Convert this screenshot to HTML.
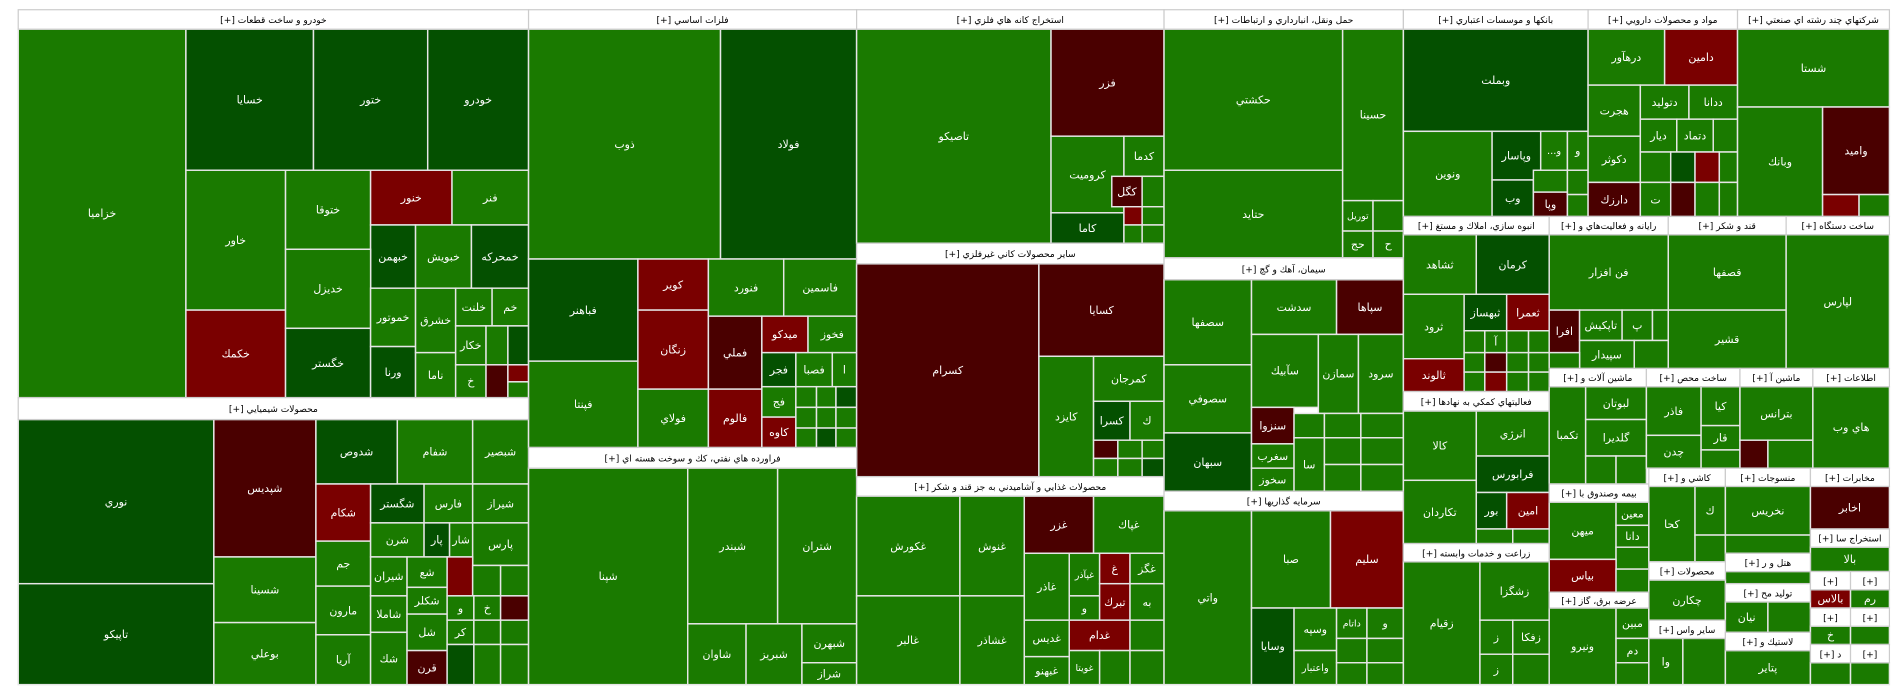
<!DOCTYPE html>
<html><head><meta charset="utf-8"><style>
html,body{margin:0;padding:0;background:#fff;width:1904px;height:698px;overflow:hidden}
svg text{font-family:"DejaVu Sans","Liberation Sans",sans-serif}
</style></head><body>
<svg id="s" width="1904" height="698" viewBox="0 0 1567 574" preserveAspectRatio="none" xmlns="http://www.w3.org/2000/svg"></svg>
<script>
var G='#1a7a00',D='#045000',R='#7a0000',K='#4a0000';
var H=[
[15,8,435,24,'خودرو و ساخت قطعات [+]'],
[15,327,435,345,'محصولات شيميايي [+]'],
[435,8,705,24,'فلزات اساسي [+]'],
[435,368,705,385,'فراورده هاي نفتي، كك و سوخت هسته اي [+]'],
[705,8,958,24,'استخراج كانه هاي فلزي [+]'],
[705,200,958,217,'ساير محصولات كاني غيرفلزي [+]'],
[705,392,958,408,'محصولات غذايي و آشاميدني به جز قند و شكر [+]'],
[958,8,1155,24,'حمل ونقل، انبارداري و ارتباطات [+]'],
[958,212,1155,230,'سيمان، آهك و گچ [+]'],
[958,404,1155,420,'سرمايه گذاريها [+]'],
[1155,8,1307,24,'بانكها و موسسات اعتباري [+]'],
[1307,8,1430,24,'مواد و محصولات دارويي [+]'],
[1430,8,1555,24,'شركتهاي چند رشته اي صنعتي [+]'],
[1155,178,1275,193,'انبوه سازي، املاك و مستغ [+]'],
[1275,178,1373,193,'رايانه و فعاليت‌هاي و [+]'],
[1373,178,1470,193,'قند و شكر [+]'],
[1470,178,1555,193,'ساخت دستگاه [+]'],
[1155,322,1275,338,'فعاليتهاي كمكي به نهادها [+]'],
[1275,303,1355,318,'ماشين آلات و [+]'],
[1355,303,1432,318,'ساخت محص [+]'],
[1432,303,1492,318,'ماشين آ [+]'],
[1492,303,1555,318,'اطلاعات [+]'],
[1275,398,1357,413,'بيمه وصندوق با [+]'],
[1357,385,1420,400,'كاشي و [+]'],
[1420,385,1490,400,'منسوجات [+]'],
[1490,385,1555,400,'مخابرات [+]'],
[1420,455,1490,470,'هتل و ر [+]'],
[1490,435,1555,450,'استخراج سا [+]'],
[1155,447,1275,462,'زراعت و خدمات وابسته [+]'],
[1275,487,1357,500,'عرضه برق، گاز [+]'],
[1357,462,1420,477,'محصولات [+]'],
[1357,510,1420,525,'ساير واس [+]'],
[1420,480,1490,495,'توليد مح [+]'],
[1490,470,1523,485,'[+]'],[1523,470,1555,485,'[+]'],
[1490,500,1523,515,'[+]'],[1523,500,1555,515,'[+]'],
[1420,520,1490,535,'لاستيك و [+]'],
[1490,530,1523,545,'د [+]'],[1523,530,1555,545,'[+]']
];
var C=[
[15,24,153,327,G,'خزاميا'],[153,24,258,140,D,'خسايا'],[258,24,352,140,D,'ختور'],[352,24,435,140,D,'خودرو'],
[153,140,235,255,G,'خاور'],[153,255,235,327,R,'خكمك'],[235,140,305,205,G,'ختوقا'],[305,140,372,185,R,'خنور'],[372,140,435,185,G,'فنر'],
[305,185,342,237,D,'خبهمن'],[342,185,388,237,G,'خبويش'],[388,185,435,237,D,'خمحركه'],[235,205,305,270,G,'خديزل'],[235,270,305,327,D,'خگستر'],
[305,237,342,285,G,'خموتور'],[305,285,342,327,D,'ورنا'],[342,237,375,290,G,'خشرق'],[375,237,405,268,G,'خلنت'],[405,237,435,268,G,'خم'],
[342,290,375,327,G,'ناما'],[375,268,400,300,G,'خكار'],[375,300,400,327,G,'خ'],[400,268,418,300,G,''],[418,268,435,300,D,''],[400,300,418,327,K,''],[418,300,435,314,R,''],[418,314,435,327,G,''],
[15,345,176,480,D,'نوري'],[15,480,176,563,D,'تاپيكو'],[176,345,260,458,K,'شپديس'],[176,458,260,512,G,'شسينا'],[176,512,260,563,G,'بوعلي'],
[260,345,327,398,D,'شدوص'],[327,345,389,398,G,'شفام'],[389,345,435,398,G,'شبصير'],[260,398,305,445,R,'شكام'],[305,398,349,430,D,'شگستر'],[349,398,389,430,G,'فارس'],[389,398,435,430,G,'شيراز'],
[260,445,305,482,G,'جم'],[260,482,305,522,G,'مارون'],[260,522,305,563,G,'آريا'],[305,430,349,458,G,'شرن'],[349,430,370,458,D,'پار'],[370,430,389,458,G,'شار'],[389,430,435,465,G,'پارس'],
[305,458,335,490,G,'شيران'],[305,490,335,520,G,'شاملا'],[305,520,335,563,G,'شك'],[335,458,368,483,G,'شع'],[335,483,368,505,G,'شكلر'],[335,505,368,535,G,'شل'],[335,535,368,563,K,'قرن'],
[368,458,389,490,R,''],[389,465,412,490,G,''],[412,465,435,490,G,''],[368,490,390,510,G,'و'],[390,490,412,510,G,'خ'],[412,490,435,510,K,''],[368,510,390,530,G,'كر'],[390,510,412,530,G,''],[412,510,435,530,G,''],[368,530,390,563,D,''],[390,530,412,563,G,''],[412,530,435,563,G,''],
[435,24,593,213,G,'ذوب'],[593,24,705,213,D,'فولاد'],[435,213,525,297,D,'فباهنر'],[435,297,525,368,G,'فپنتا'],[525,213,583,255,R,'كوير'],[525,255,583,320,R,'زنگان'],[525,320,583,368,G,'فولاي'],
[583,213,645,260,G,'فنورد'],[645,213,705,260,G,'فاسمين'],[583,260,627,320,K,'فملي'],[583,320,627,368,R,'فالوم'],[627,260,665,290,R,'ميدكو'],[665,260,705,290,G,'فخوز'],
[627,290,655,318,D,'فجر'],[655,290,685,318,G,'فصبا'],[685,290,705,318,G,'ا'],[627,318,655,343,G,'فج'],[627,343,655,368,R,'كاوه'],
[655,318,672,335,G,''],[672,318,688,335,G,''],[688,318,705,335,D,''],[655,335,672,352,G,''],[672,335,688,352,G,''],[688,335,705,352,G,''],[655,352,672,368,G,''],[672,352,688,368,D,''],[688,352,705,368,G,''],
[435,385,566,563,G,'شپنا'],[566,385,640,513,G,'شبندر'],[640,385,705,513,G,'شتران'],[566,513,614,563,G,'شاوان'],[614,513,660,563,G,'شبريز'],[660,513,705,545,G,'شبهرن'],[660,545,705,563,G,'شراز'],
[705,24,865,200,G,'تاصيكو'],[865,24,958,112,K,'فزر'],[865,112,925,175,G,'كروميت'],[925,112,958,145,G,'كدما'],[915,145,940,170,K,'كگل'],[940,145,958,170,G,''],
[865,175,925,200,D,'كاما'],[925,170,940,185,R,''],[940,170,958,185,G,''],[925,185,940,200,G,''],[940,185,958,200,G,''],
[705,217,855,392,K,'كسرام'],[855,217,958,293,K,'كسايا'],[855,293,900,392,G,'كايزد'],[900,293,958,330,G,'كمرجان'],[900,330,930,362,D,'كسرا'],[930,330,958,362,G,'ك'],
[900,362,920,377,K,''],[920,362,940,377,G,''],[940,362,958,377,G,''],[900,377,920,392,G,''],[920,377,940,392,G,''],[940,377,958,392,D,''],
[705,408,790,490,G,'غكورش'],[705,490,790,563,G,'غالبر'],[790,408,843,490,G,'غنوش'],[790,490,843,563,G,'غشاذر'],[843,408,900,455,K,'غزر'],[900,408,958,455,G,'غپاك'],
[843,455,880,510,G,'غاذر'],[843,510,880,540,G,'غديس'],[843,540,880,563,G,'غبهنو'],[880,455,905,490,G,'غپآذر'],[905,455,930,480,R,'غ'],[930,455,958,480,G,'غگز'],
[880,490,905,510,G,'و'],[905,480,930,510,R,'تبرك'],[930,480,958,510,G,'به'],[880,510,930,535,R,'غدام'],[930,510,958,535,G,''],[880,535,905,563,G,'غويتا'],[905,535,930,563,G,''],[930,535,958,563,G,''],
[958,24,1105,140,G,'حكشتي'],[958,140,1105,212,G,'حتايد'],[1105,24,1155,165,G,'حسينا'],[1105,165,1130,190,G,'توريل'],[1130,165,1155,190,G,''],[1105,190,1130,212,G,'حج'],[1130,190,1155,212,G,'ح'],
[958,230,1030,300,G,'سصفها'],[958,300,1030,356,G,'سصوفي'],[958,356,1030,404,D,'سبهان'],[1030,230,1100,275,G,'سدشت'],[1100,230,1155,275,K,'سپاها'],
[1030,275,1085,335,G,'سآبيك'],[1085,275,1118,340,G,'سمازن'],[1118,275,1155,340,G,'سرود'],[1030,335,1065,365,K,'سنزوا'],[1030,365,1065,385,G,'سغرب'],[1030,385,1065,404,G,'سخوز'],
[1065,340,1090,360,G,''],[1090,340,1120,360,G,''],[1120,340,1155,360,G,''],[1065,360,1090,404,G,'سا'],[1090,360,1120,382,G,''],[1120,360,1155,382,G,''],[1090,382,1120,404,G,''],[1120,382,1155,404,G,''],
[958,420,1030,563,G,'واتي'],[1030,420,1095,500,G,'صبا'],[1095,420,1155,500,R,'سليم'],[1030,500,1065,563,D,'وسايا'],[1065,500,1100,535,G,'وسپه'],[1065,535,1100,563,G,'واعتبار'],
[1100,500,1125,525,G,'داتام'],[1125,500,1155,525,G,'و'],[1100,525,1125,545,G,''],[1125,525,1155,545,G,''],[1100,545,1125,563,G,''],[1125,545,1155,563,G,''],
[1155,24,1307,108,D,'وبملت'],[1155,108,1228,178,G,'ونوين'],[1228,108,1268,148,D,'وپاسار'],[1268,108,1290,140,G,'و...'],[1290,108,1307,140,G,'و'],
[1228,148,1262,178,D,'وب'],[1262,140,1290,158,G,''],[1262,158,1290,178,K,'وپا'],[1290,140,1307,160,G,''],[1290,160,1307,178,G,''],
[1307,24,1370,70,G,'درهآور'],[1370,24,1430,70,R,'دامين'],[1307,70,1350,112,G,'هجرت'],[1350,70,1390,98,G,'دتوليد'],[1390,70,1430,98,G,'ددانا'],
[1307,112,1350,150,G,'دكوثر'],[1350,98,1380,125,G,'ديار'],[1380,98,1410,125,G,'دتماد'],[1410,98,1430,125,G,''],[1307,150,1350,178,K,'دارزك'],
[1350,125,1375,150,G,''],[1375,125,1395,150,D,''],[1395,125,1415,150,R,''],[1415,125,1430,150,G,''],[1350,150,1375,178,G,'ت'],[1375,150,1395,178,K,''],[1395,150,1415,178,G,''],[1415,150,1430,178,G,''],
[1430,24,1555,88,G,'شستا'],[1430,88,1500,178,G,'وبانك'],[1500,88,1555,160,K,'واميد'],[1500,160,1530,178,R,''],[1530,160,1555,178,G,''],
[1155,193,1215,242,G,'ثشاهد'],[1215,193,1275,242,D,'كرمان'],[1155,242,1205,295,G,'ثرود'],[1155,295,1205,322,R,'ثالوند'],[1205,242,1240,272,D,'ثبهساز'],[1240,242,1275,272,R,'ثعمرا'],
[1205,272,1222,290,G,''],[1222,272,1240,290,G,'آ'],[1240,272,1258,290,G,''],[1258,272,1275,290,G,''],[1205,290,1222,306,G,''],[1222,290,1240,306,K,''],[1240,290,1258,306,G,''],[1258,290,1275,306,G,''],[1205,306,1222,322,G,''],[1222,306,1240,322,R,''],[1240,306,1258,322,G,''],[1258,306,1275,322,G,''],
[1275,193,1373,255,G,'فن افزار'],[1275,255,1300,290,K,'افرا'],[1300,255,1335,280,G,'تاپكيش'],[1335,255,1360,280,G,'پ'],[1360,255,1373,280,G,''],[1300,280,1345,303,G,'سپيدار'],[1345,280,1373,303,G,''],[1275,290,1300,303,G,''],
[1373,193,1470,255,G,'قصفها'],[1373,255,1470,303,G,'قشير'],
[1470,193,1555,303,G,'لپارس'],
[1155,338,1215,395,G,'كالا'],[1155,395,1215,447,G,'تكاردان'],[1215,338,1275,375,G,'انرژي'],[1215,375,1275,405,D,'فرابورس'],[1215,405,1240,435,D,'بور'],[1240,405,1275,435,R,'امين'],[1215,435,1245,447,G,''],[1245,435,1275,447,G,''],
[1275,318,1305,398,G,'تكمبا'],[1305,318,1355,345,G,'لبوتان'],[1305,345,1355,375,G,'گلديرا'],[1305,375,1330,398,G,''],[1330,375,1355,398,G,''],
[1355,318,1400,358,G,'فاذر'],[1400,318,1432,350,G,'كيا'],[1355,358,1400,385,G,'چدن'],[1400,350,1432,370,G,'قار'],[1400,370,1432,385,G,''],
[1432,318,1492,362,G,'بترانس'],[1432,362,1455,385,K,''],[1455,362,1492,385,G,''],
[1492,318,1555,385,G,'هاي وب'],
[1275,413,1330,460,G,'ميهن'],[1330,413,1357,432,G,'معين'],[1330,432,1357,450,G,'دانا'],[1330,450,1357,468,G,''],[1275,460,1330,487,R,'بياس'],[1330,468,1357,487,G,''],
[1357,400,1395,462,G,'كحا'],[1395,400,1420,440,G,'ك'],[1395,440,1420,462,G,''],
[1420,400,1490,440,G,'نخريس'],[1420,440,1490,455,G,''],
[1490,400,1555,435,K,'اخابر'],[1490,450,1555,470,G,'بالا'],
[1420,470,1490,480,G,''],
[1155,462,1218,563,G,'زقيام'],[1218,462,1275,510,G,'زشگزا'],[1218,510,1245,538,G,'ز'],[1245,510,1275,538,G,'زفكا'],[1218,538,1245,563,G,'ز'],[1245,538,1275,563,G,''],
[1275,500,1330,563,G,'ونيرو'],[1330,500,1357,525,G,'مبين'],[1330,525,1357,545,G,'دم'],[1330,545,1357,563,G,''],
[1357,477,1420,510,G,'چكارن'],[1357,525,1385,563,G,'وا'],[1385,525,1420,563,G,''],
[1420,495,1455,520,G,'نيان'],[1455,495,1490,520,G,''],
[1490,485,1523,500,R,'بالاس'],[1523,485,1555,500,G,'رم'],[1490,515,1523,530,G,'خ'],[1523,515,1555,530,G,''],
[1420,535,1490,563,G,'پتاير'],[1490,545,1523,563,G,''],[1523,545,1555,563,G,'']
];
var s=document.getElementById('s'),o='';
o+='<rect x="0" y="0" width="1567" height="574" fill="#fff"/>';
C.forEach(function(c){var w=c[2]-c[0],h=c[3]-c[1];if(w<=0||h<=0)return;
o+='<rect x="'+c[0]+'" y="'+c[1]+'" width="'+w+'" height="'+h+'" fill="'+c[4]+'" stroke="#e6e6e6" stroke-width="1.2"/>';
if(c[5]){var fs=Math.min(9,Math.max(6,Math.min(w/ (c[5].length*0.55+0.5),h*0.6)));
o+='<text x="'+(c[0]+w/2)+'" y="'+(c[1]+h/2+fs*0.35)+'" font-size="'+fs.toFixed(1)+'" fill="#fff" text-anchor="middle" direction="rtl">'+c[5]+'</text>';}});
H.forEach(function(h){var w=h[2]-h[0];o+='<rect x="'+h[0]+'" y="'+h[1]+'" width="'+w+'" height="'+(h[3]-h[1])+'" fill="#fff" stroke="#ccc" stroke-width="1"/>';
o+='<text x="'+(h[0]+w/2)+'" y="'+(h[1]+(h[3]-h[1])/2+3)+'" font-size="7.5" fill="#000" text-anchor="middle" direction="rtl" unicode-bidi="embed">'+h[4]+'</text>';});
s.innerHTML=o;
</script>
</body></html>
